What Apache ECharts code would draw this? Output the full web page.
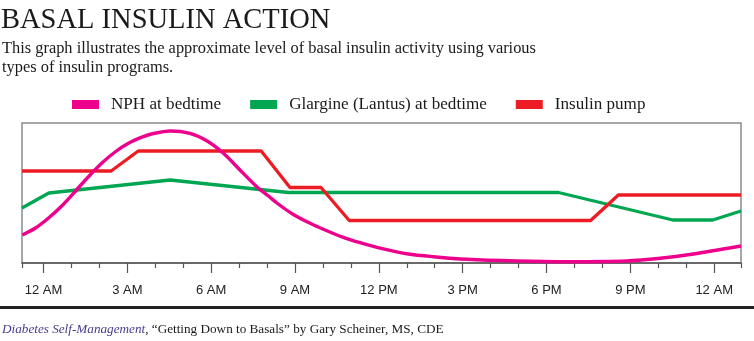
<!DOCTYPE html>
<html>
<head>
<meta charset="utf-8">
<script src="https://cdn.jsdelivr.net/npm/echarts@6/dist/echarts.min.js"></script>
<style>
html,body{margin:0;padding:0;background:#fff;}
#chart{width:754px;height:341px;}
</style>
</head>
<body>
<div id="chart"></div>
<script>
// Hours from midnight (x), arbitrary activity level (y)
const axisMin = -0.77;
const axisMax = 24.96;
const majorTickHours = [0, 3, 6, 9, 12, 15, 18, 21, 24];
const tickLabels = ['12 AM', '3 AM', '6 AM', '9 AM', '12 PM', '3 PM', '6 PM', '9 PM', '12 AM'];
const minorTickHours = [-0.77, 1, 2, 4, 5, 7, 8, 10, 11, 13, 14, 16, 17, 19, 20, 22, 23, 24.96];

const nphHours = [-0.76, -0.30, 0.17, 0.65, 1.13, 1.60, 2.08, 2.56, 3.04, 3.57, 3.93, 4.53, 5.24, 5.84, 6.44, 7.03, 7.63, 8.05, 8.35, 8.94, 9.54, 10.14, 10.73, 11.33, 11.93, 13.06, 13.95, 15.15, 16.94, 18.73, 20.87, 22.07, 23.26, 24.96];
const nphValues = [28, 34.7, 44.7, 57, 71.5, 86, 99.7, 111, 119.7, 126.3, 129.5, 132, 129.7, 122.3, 109.7, 93, 76.3, 67, 60, 48.5, 39.7, 32.3, 25.7, 20.3, 15.7, 9, 6.3, 3.7, 2, 1.3, 2, 4.7, 9, 17];

const glargineHours = [-0.77, 0.19, 4.53, 8.76, 18.43, 22.52, 23.95, 24.96];
const glargineValues = [55, 70, 83, 70.5, 70.5, 43, 43, 52];

const pumpHours = [-0.77, 2.42, 3.39, 7.79, 8.82, 9.93, 10.94, 19.58, 20.57, 24.96];
const pumpValues = [92, 92, 112, 112, 75.5, 75.5, 42.5, 42.5, 68, 68];

const seriesNames = ['NPH at bedtime', 'Glargine (Lantus) at bedtime', 'Insulin pump'];
const seriesColors = ['#EC008C', '#00A651', '#ED1C24'];

function pairs(xs, ys) { return xs.map((x, i) => [x, ys[i]]); }

const chart = echarts.init(document.getElementById('chart'), null, {renderer: 'canvas'});
const serif = '"Liberation Serif", "DejaVu Serif", serif';
const sans = '"Liberation Sans", Arial, sans-serif';

chart.setOption({
  animation: false,
  backgroundColor: '#ffffff',
  title: [
    {
      text: 'BASAL INSULIN ACTION',
      left: 1, top: 6, padding: 0,
      textStyle: {fontFamily: serif, fontSize: 28.5, fontWeight: 'normal', color: '#1a1a1a'}
    },
    {
      text: 'This graph illustrates the approximate level of basal insulin activity using various\ntypes of insulin programs.',
      left: 2, top: 39, padding: 0,
      textStyle: {fontFamily: serif, fontSize: 16.4, fontWeight: 'normal', color: '#1a1a1a', lineHeight: 19}
    },
    {
      text: '{a|Diabetes Self-Management}{b|, \u201cGetting Down to Basals\u201d by Gary Scheiner, MS, CDE}',
      left: 2, top: 323, padding: 0,
      textStyle: {
        fontWeight: 'normal',
        rich: {
          a: {fontFamily: serif, fontSize: 13.2, fontStyle: 'italic', fontWeight: 'normal', color: '#4a3c8c'},
          b: {fontFamily: serif, fontSize: 13.2, fontWeight: 'normal', color: '#1a1a1a'}
        }
      }
    }
  ],
  legend: {
    data: seriesNames,
    left: 72, top: 96, padding: 0,
    icon: 'rect',
    itemWidth: 27, itemHeight: 9, itemGap: 29,
    textStyle: {fontFamily: serif, fontSize: 17.1, color: '#1a1a1a', padding: [0, 0, 0, 7]}
  },
  grid: {
    left: 22, right: 13, top: 123, bottom: 78,
    show: true, borderColor: '#8a8a8a', borderWidth: 1.5
  },
  xAxis: [
    {
      type: 'value', min: axisMin, max: axisMax,
      axisLine: {show: true, lineStyle: {color: '#555', width: 1.5}},
      axisTick: {show: true, customValues: majorTickHours, length: 10, lineStyle: {color: '#555', width: 1.2}},
      axisLabel: {
        show: true, customValues: majorTickHours, margin: 21,
        fontFamily: sans, fontSize: 13, color: '#222',
        formatter: function (v) { const i = majorTickHours.indexOf(Math.round(v)); return i >= 0 ? tickLabels[i] : ''; }
      },
      splitLine: {show: false}
    },
    {
      type: 'value', min: axisMin, max: axisMax, position: 'bottom',
      axisLine: {show: false},
      axisTick: {show: true, customValues: minorTickHours, length: 5, lineStyle: {color: '#555', width: 1.2}},
      axisLabel: {show: false},
      splitLine: {show: false}
    }
  ],
  yAxis: {
    type: 'value', min: 0, max: 140, show: false, splitLine: {show: false}
  },
  graphic: [
    {type: 'rect', shape: {x: 0, y: 306, width: 754, height: 3}, style: {fill: '#222'}, silent: true}
  ],
  series: [
    {
      name: seriesNames[0], type: 'line', xAxisIndex: 0, data: pairs(nphHours, nphValues),
      smooth: 0.25, showSymbol: false, symbol: 'none',
      lineStyle: {color: seriesColors[0], width: 3.4, join: 'round'}, itemStyle: {color: seriesColors[0]}, z: 3
    },
    {
      name: seriesNames[1], type: 'line', xAxisIndex: 0, data: pairs(glargineHours, glargineValues),
      showSymbol: false, symbol: 'none',
      lineStyle: {color: seriesColors[1], width: 3.3}, itemStyle: {color: seriesColors[1]}, z: 2
    },
    {
      name: seriesNames[2], type: 'line', xAxisIndex: 0, data: pairs(pumpHours, pumpValues),
      showSymbol: false, symbol: 'none',
      lineStyle: {color: seriesColors[2], width: 3.3}, itemStyle: {color: seriesColors[2]}, z: 2
    }
  ]
});
</script>
</body>
</html>
